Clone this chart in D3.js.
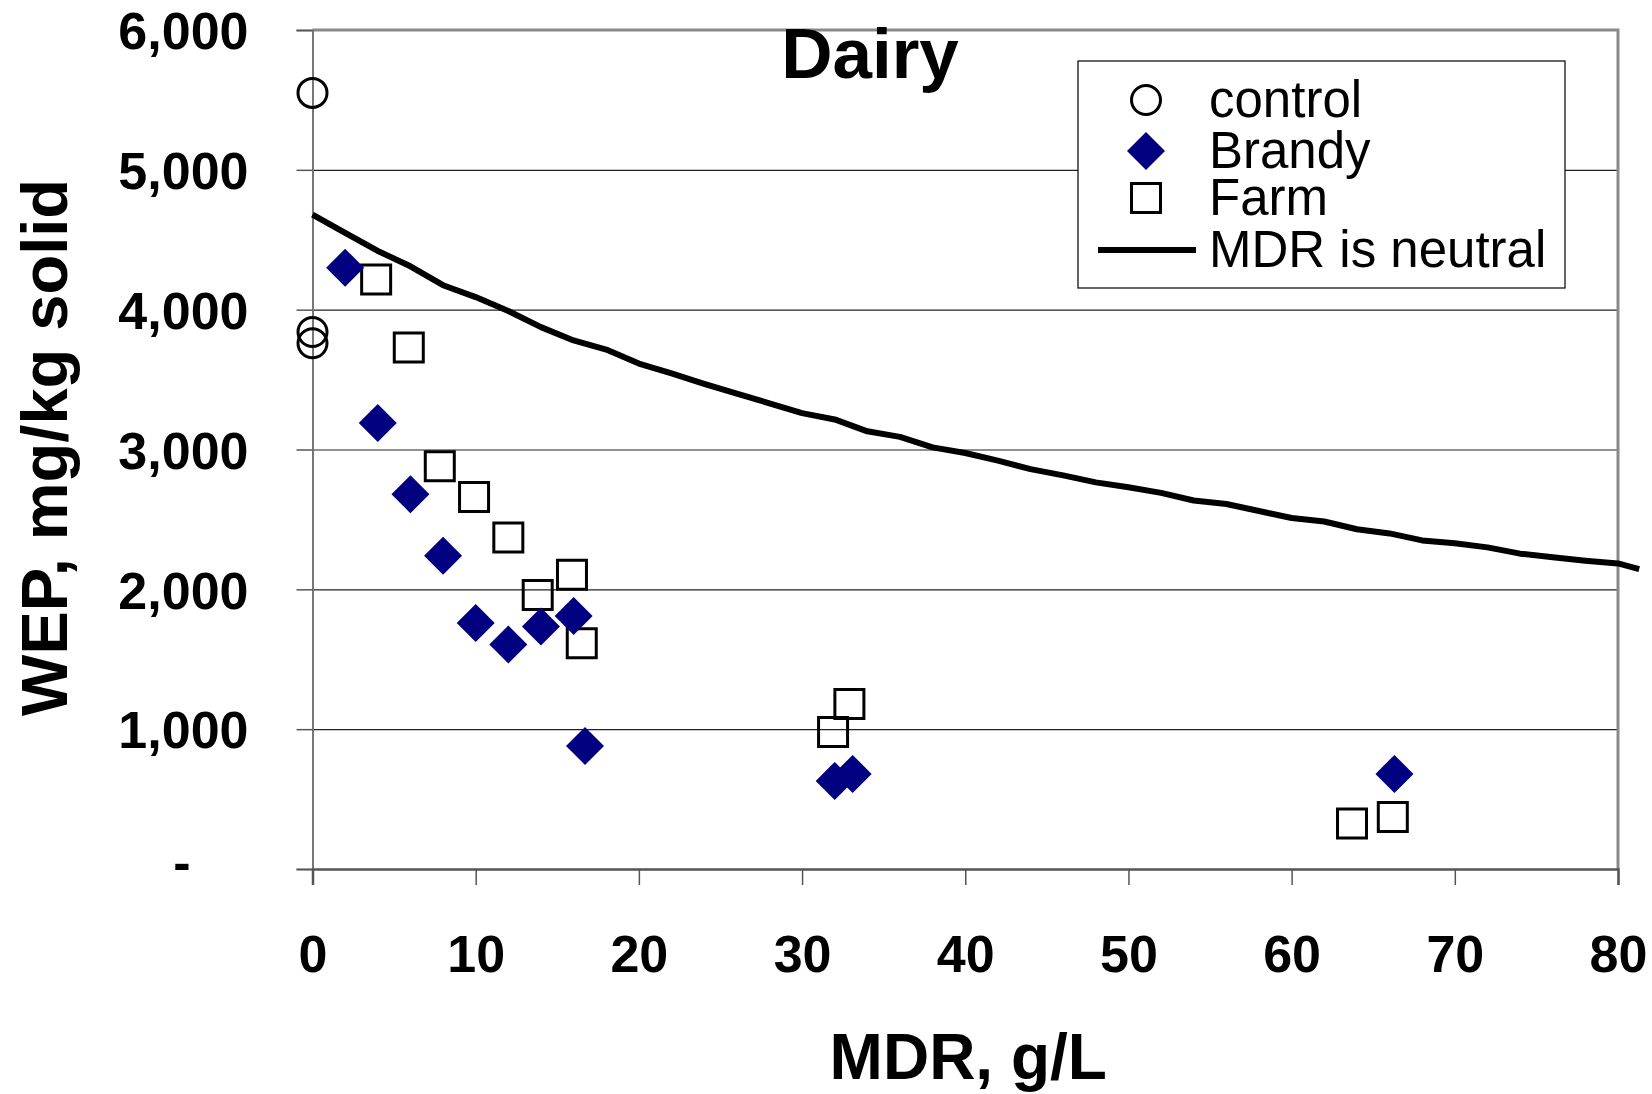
<!DOCTYPE html>
<html>
<head>
<meta charset="utf-8">
<script src="https://cdn.jsdelivr.net/npm/d3@7"></script>
<style>
  body { margin: 0; background: #fff; }
  svg { font-family: "Liberation Sans", Arial, sans-serif; }
</style>
</head>
<body>
<div id="chart"></div>
<script>
// data
var controlPts = [[0, 5550], [0, 3840], [0, 3760]];
var brandyPts = [[2, 4300], [4, 3190], [6, 2680], [8, 2240], [10, 1760], [12, 1605],
  [14, 1735], [16, 1810], [16.7, 880], [32, 630], [33.1, 680], [66.3, 680]];
var farmPts = [[3.9, 4215], [5.9, 3730], [7.8, 2880], [9.9, 2660], [12, 2370],
  [13.8, 1960], [15.9, 2105], [16.5, 1615], [31.9, 980], [32.9, 1180], [63.7, 325], [66.2, 372]];
var neutralX = [0, 2, 4, 6, 8, 10, 12, 14, 16, 18, 20, 22, 24, 26, 28, 30, 32, 34, 36, 38, 40,
  42, 44, 46, 48, 50, 52, 54, 56, 58, 60, 62, 64, 66, 68, 70, 72, 74, 76, 78, 80, 81.3];
var neutralY = [4680, 4550, 4420, 4310, 4175, 4090, 3990, 3875, 3780, 3715, 3615, 3545, 3470,
  3400, 3330, 3260, 3215, 3130, 3090, 3015, 2975, 2920, 2860, 2815, 2765, 2730, 2690, 2635,
  2610, 2560, 2510, 2485, 2430, 2400, 2350, 2330, 2300, 2255, 2230, 2205, 2185, 2145];
var xTicks = [0, 10, 20, 30, 40, 50, 60, 70, 80];
var yTicks = [0, 1000, 2000, 3000, 4000, 5000, 6000];
var legendNames = ["control", "Brandy", "Farm", "MDR is neutral"];

var W = 1652, H = 1094;
var pLeft = 312.5, pRight = 1618, pTop = 30, pBottom = 869;

var svg = d3.select("#chart").append("svg")
    .attr("width", W)
    .attr("height", H);

var x = d3.scaleLinear().domain([0, 80]).range([pLeft, pRight]);
var y = d3.scaleLinear().domain([0, 6000]).range([pBottom, pTop]);

// gridlines
svg.append("g")
    .attr("transform", "translate(" + pLeft + ",0)")
    .call(d3.axisLeft(y).tickValues(yTicks.slice(1, 6)).tickSize(-(pRight - pLeft)).tickFormat(""))
    .call(function(g) {
      g.select(".domain").remove();
      g.selectAll("line").attr("stroke", "#222").attr("stroke-width", 1.2);
    });

// plot frame (top and right)
svg.append("path")
    .attr("d", "M" + pLeft + "," + pTop + "H" + pRight + "V" + pBottom)
    .attr("fill", "none")
    .attr("stroke", "#8a8a8a")
    .attr("stroke-width", 3);

// y axis
var yAxis = svg.append("g")
    .attr("transform", "translate(" + pLeft + ",0)")
    .call(d3.axisLeft(y).tickValues(yTicks).tickSize(16).tickPadding(48)
      .tickFormat(function(d) { return d === 0 ? "-" : d3.format(",")(d); }));
yAxis.select(".domain").attr("stroke", "#777").attr("stroke-width", 2);
yAxis.selectAll("line").attr("stroke", "#555").attr("stroke-width", 1.5);
yAxis.selectAll("text")
    .attr("font-size", 52)
    .attr("font-weight", "bold")
    .attr("fill", "#000")
    .attr("dy", "0.36em")
    .filter(function(d) { return d === 0; })
    .attr("dx", -58)
    .attr("dy", "0.2em");

// x axis
var xAxis = svg.append("g")
    .attr("transform", "translate(0," + pBottom + ")")
    .call(d3.axisBottom(x).tickValues(xTicks).tickSize(16).tickPadding(50));
xAxis.select(".domain").attr("stroke", "#555").attr("stroke-width", 2.5);
xAxis.selectAll("line").attr("stroke", "#555").attr("stroke-width", 1.5);
xAxis.selectAll("text")
    .attr("font-size", 52)
    .attr("font-weight", "bold")
    .attr("fill", "#000");

// axis titles
svg.append("text")
    .attr("x", (pLeft + pRight) / 2 + 3)
    .attr("y", 1079)
    .attr("text-anchor", "middle")
    .attr("font-size", 64)
    .attr("font-weight", "bold")
    .text("MDR, g/L");

svg.append("text")
    .attr("transform", "translate(67," + ((pTop + pBottom) / 2 - 2) + ") rotate(-90)")
    .attr("text-anchor", "middle")
    .attr("font-size", 65)
    .attr("font-weight", "bold")
    .text("WEP, mg/kg solid");

svg.append("text")
    .attr("x", 870)
    .attr("y", 78)
    .attr("text-anchor", "middle")
    .attr("font-size", 71)
    .attr("font-weight", "bold")
    .text("Dairy");

// neutral line
var line = d3.line()
    .x(function(d) { return x(d[0]); })
    .y(function(d) { return y(d[1]); });
var neutral = neutralX.map(function(v, i) { return [v, neutralY[i]]; });

// markers
var diamond = d3.symbol().type(d3.symbolSquare).size(722);
var square = d3.symbol().type(d3.symbolSquare).size(29 * 29);

svg.append("g").selectAll("circle")
    .data(controlPts)
    .enter().append("circle")
    .attr("cx", function(d) { return x(d[0]); })
    .attr("cy", function(d) { return y(d[1]); })
    .attr("r", 14.5)
    .attr("fill", "none")
    .attr("stroke", "#000")
    .attr("stroke-width", 3);

svg.append("g").selectAll("path")
    .data(farmPts)
    .enter().append("path")
    .attr("d", square)
    .attr("transform", function(d) { return "translate(" + x(d[0]) + "," + y(d[1]) + ")"; })
    .attr("fill", "none")
    .attr("stroke", "#000")
    .attr("stroke-width", 3);

svg.append("g").selectAll("path")
    .data(brandyPts)
    .enter().append("path")
    .attr("d", diamond)
    .attr("transform", function(d) { return "translate(" + x(d[0]) + "," + y(d[1]) + ") rotate(45)"; })
    .attr("fill", "#000080");

svg.append("path")
    .datum(neutral)
    .attr("d", line)
    .attr("fill", "none")
    .attr("stroke", "#000")
    .attr("stroke-width", 6)
    .attr("stroke-linejoin", "round");

// legend
var lg = svg.append("g");
lg.append("rect")
    .attr("x", 1078)
    .attr("y", 61)
    .attr("width", 487)
    .attr("height", 227)
    .attr("fill", "#fff")
    .attr("stroke", "#000")
    .attr("stroke-width", 1.2);

var symX = 1146, rowY = [100, 151, 198, 250];
lg.append("circle").attr("cx", symX).attr("cy", rowY[0]).attr("r", 14.5)
    .attr("fill", "none").attr("stroke", "#000").attr("stroke-width", 3);
lg.append("path").attr("d", diamond)
    .attr("transform", "translate(" + symX + "," + rowY[1] + ") rotate(45)")
    .attr("fill", "#000080");
lg.append("path").attr("d", square)
    .attr("transform", "translate(" + symX + "," + rowY[2] + ")")
    .attr("fill", "none").attr("stroke", "#000").attr("stroke-width", 3);
lg.append("line").attr("x1", 1098).attr("x2", 1196).attr("y1", rowY[3]).attr("y2", rowY[3])
    .attr("stroke", "#000").attr("stroke-width", 6);

lg.selectAll("text.leg")
    .data(legendNames)
    .enter().append("text")
    .attr("class", "leg")
    .attr("x", 1209)
    .attr("y", function(d, i) { return rowY[i] + 17; })
    .attr("font-size", 51)
    .text(function(d) { return d; });
</script>
</body>
</html>
